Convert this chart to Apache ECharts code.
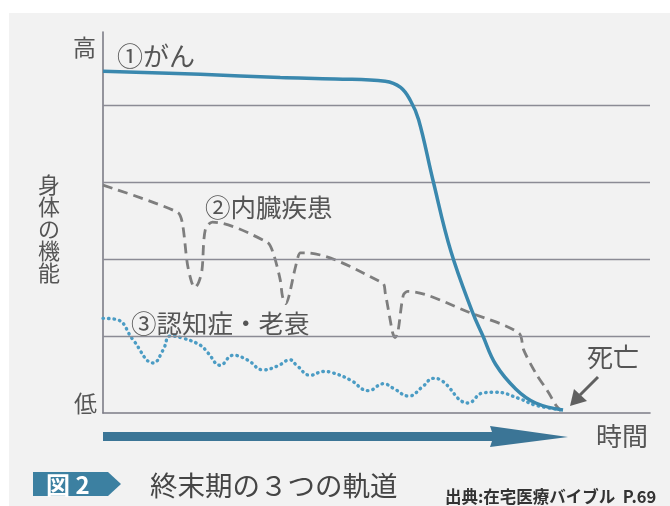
<!DOCTYPE html>
<html><head><meta charset="utf-8">
<script src="https://cdn.jsdelivr.net/npm/echarts@6/dist/echarts.min.js"></script>
<style>html,body{margin:0;padding:0;background:#fff}#c{width:670px;height:506px}</style>
</head><body><div id="c"></div>
<script>
// ---- data (time 0-100, physical function 0-5) ----
const cancerT = [0, 17.8, 32.4, 42.5, 51.6, 54.4, 56.2, 57.7, 60.3, 63.6, 67.6, 69.4, 71.8, 75.5, 79.1, 84.1];
const cancerV = [4.44, 4.40, 4.36, 4.34, 4.31, 4.23, 4.06, 3.81, 3.03, 2.10, 1.30, 1.01, 0.63, 0.31, 0.13, 0.04];

const organT = [0, 13.6, 14.5, 15.4, 16.2, 16.8, 17.5, 18.1, 18.7, 20.0, 30.0, 31.1, 32.4, 32.8, 33.4, 34.0, 35.2, 36.1, 37.0, 51.1, 51.6, 52.6, 53.0, 53.4, 53.9, 54.9, 55.7, 67.2, 76.0, 76.9, 79.1, 81.5, 82.8, 83.7];
const organV = [2.96, 2.61, 2.47, 1.95, 1.70, 1.63, 1.70, 1.86, 2.38, 2.48, 2.22, 2.08, 1.73, 1.52, 1.42, 1.52, 1.90, 2.08, 2.08, 1.69, 1.56, 1.17, 1.03, 0.98, 1.05, 1.53, 1.58, 1.30, 1.04, 0.82, 0.52, 0.26, 0.10, 0.03];

const frailT = [0, 2.7, 5.5, 9.2, 11.0, 12.3, 14.7, 17.8, 19.2, 21.4, 23.8, 26.4, 29.3, 31.9, 34.2, 35.4, 37.9, 40.3, 42.1, 45.2, 48.5, 51.3, 53.1, 55.9, 58.4, 60.4, 61.7, 66.8, 69.4, 71.8, 76.0, 79.1, 84.1];
const frailV = [1.23, 1.21, 0.95, 0.65, 0.82, 1.00, 0.97, 0.88, 0.78, 0.62, 0.75, 0.69, 0.56, 0.61, 0.69, 0.62, 0.49, 0.54, 0.52, 0.43, 0.29, 0.38, 0.32, 0.22, 0.34, 0.45, 0.43, 0.13, 0.26, 0.27, 0.19, 0.10, 0.04];

const gridLevels = [1, 2, 3, 4];

const labelHigh = '高', labelLow = '低', yTitle = '身体の機能', xTitle = '時間';
const seriesNames = ['①がん', '②内臓疾患', '③認知症・老衰'];
const deathLabel = '死亡';
const figLabel = '図 2', figTitle = '終末期の３つの軌道', sourceText = '出典:在宅医療バイブル  P.69';

const zip = (a, b) => a.map((x, i) => [x, b[i]]);
const FONT = '"Noto Sans CJK JP", sans-serif';
const chart = echarts.init(document.getElementById('c'));

const txt = (x, y, s, size, color, extra) => Object.assign({
  type: 'text', x, y, z: 10,
  style: Object.assign({text: s, fontSize: size, fontFamily: FONT, fill: color, verticalAlign: 'middle'}, extra || {})
});

chart.setOption({
  backgroundColor: '#ffffff',
  animation: false,
  grid: {left: 103, right: 20, top: 32, bottom: 93},
  xAxis: {type: 'value', min: 0, max: 100,
    axisLine: {show: true, lineStyle: {color: '#7c7c86', width: 1.6}},
    axisTick: {show: false}, axisLabel: {show: false}, splitLine: {show: false}},
  yAxis: {type: 'value', min: 0, max: 4.95, interval: 1,
    axisLine: {show: true, onZero: false, lineStyle: {color: '#7c7c86', width: 1.6}},
    axisTick: {show: false}, axisLabel: {show: false}, splitLine: {show: false}},
  graphic: [
    {type: 'rect', shape: {x: 9, y: 13, width: 661, height: 493}, style: {fill: '#f2f2f2'}, z: -10},
    txt(73, 47, labelHigh, 23, '#555'),
    txt(74, 403, labelLow, 23, '#555'),
    txt(49, 229, yTitle.split('').join('\n'), 22, '#555', {align: 'center', lineHeight: 22}),
    txt(117, 56, seriesNames[0], 26, '#555'),
    txt(205, 207, seriesNames[1], 25.5, '#555'),
    txt(131, 323, seriesNames[2], 25.5, '#555'),
    txt(587, 357, deathLabel, 26, '#555'),
    txt(596, 436, xTitle, 26, '#555'),
    // death pointer arrow
    {type: 'line', shape: {x1: 598, y1: 377, x2: 580, y2: 395}, style: {stroke: '#606060', lineWidth: 3}, z: 10},
    {type: 'polygon', shape: {points: [[570, 406], [574, 389], [587, 401]]}, style: {fill: '#606060'}, z: 10},
    // time arrow
    {type: 'polygon', shape: {points: [[103, 432], [492, 432], [490, 426], [568, 437], [490, 447], [492, 441], [103, 441]]}, style: {fill: '#3b7596'}, z: 5},
    // figure label box
    {type: 'polygon', shape: {points: [[33, 472], [108, 472], [121, 484], [108, 496], [33, 496]]}, style: {fill: '#3c80a1'}, z: 5},
    txt(46, 485, figLabel, 24, '#ffffff', {fontWeight: 'bold'}),
    txt(150, 486, figTitle, 27.5, '#454545'),
    txt(445, 497, sourceText, 16.5, '#333', {fontWeight: 'bold'})
  ],
  series: [
    {type: 'line', name: seriesNames[2], data: zip(frailT, frailV), smooth: 0.45, symbol: 'none',
      lineStyle: {color: '#4b9cc4', width: 3.4, type: [0.5, 5], cap: 'round'}, z: 3,
      markLine: {silent: true, symbol: 'none', label: {show: false},
        lineStyle: {color: '#8b8b95', width: 1.3, type: 'solid'},
        data: gridLevels.map(v => ({yAxis: v}))}},
    {type: 'line', name: seriesNames[1], data: zip(organT, organV), smooth: 0.3, symbol: 'none',
      lineStyle: {color: '#7e7e7e', width: 2.8, type: [10, 6]}, z: 4},
    {type: 'line', name: seriesNames[0], data: zip(cancerT, cancerV), smooth: 0.4, symbol: 'none',
      lineStyle: {color: '#3a88ae', width: 3.5}, z: 5}
  ]
});
</script></body></html>
